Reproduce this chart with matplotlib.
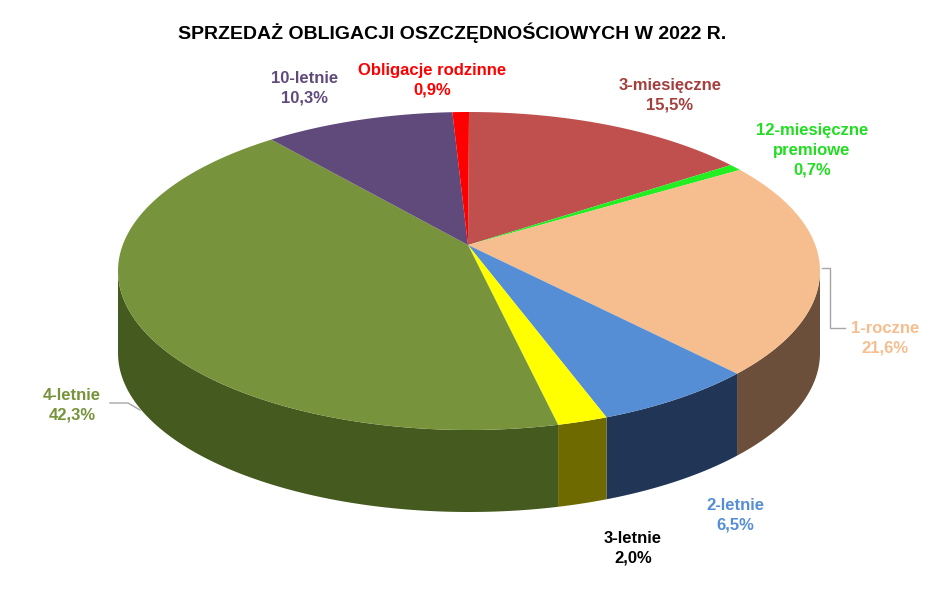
import numpy as np
import matplotlib
matplotlib.use("Agg")
import matplotlib.pyplot as plt
from matplotlib.patches import Polygon

labels = ["3-miesięczne", "12-miesięczne\npremiowe", "1-roczne", "2-letnie", "3-letnie",
          "4-letnie", "10-letnie", "Obligacje rodzinne"]
values = [15.5, 0.7, 21.6, 6.5, 2.0, 42.3, 10.3, 0.9]
pct_text = ["15,5%", "0,7%", "21,6%", "6,5%", "2,0%", "42,3%", "10,3%", "0,9%"]
top_colors = ["#C0504D", "#22EE22", "#F6BE8E", "#558ED5", "#FFFF00", "#77933C", "#604A7B", "#FF0000"]
side_colors = ["#7a2e2c", "#118811", "#6b4f3a", "#213656", "#6e6a00", "#455a1f", "#3a2c4c", "#990000"]
label_colors = ["#A33F3C", "#22DD22", "#F6BE8E", "#558ED5", "#000000", "#77933C", "#604A7B", "#FF0000"]
label_pos = [(670, 95), (812, 150), (885, 338), (735, 515), (633, 548), (72, 405), (305, 88), (432, 80)]

fig = plt.figure(figsize=(9.37, 6.04), dpi=100)
ax = fig.add_axes([0, 0, 1, 1])
ax.set_xlim(0, 937); ax.set_ylim(604, 0); ax.axis("off")

cx, cy, rx, ry, depth = 469, 271, 351, 159, 82
apex = (468, 245)
total = sum(values)
# perspective: equal-angle slices measured from the apex
def rim_angle(phi):
    # find ellipse parameter t where direction from apex equals phi
    ts = np.linspace(-np.pi / 2, 1.5 * np.pi, 20001)
    x = cx + rx * np.cos(ts) - apex[0]
    y = (cy + ry * np.sin(ts) - apex[1]) * rx / ry
    ang = np.unwrap(np.arctan2(y, x))
    ang = ang - ang[0] - np.pi / 2
    return np.interp(phi, ang, ts)

phis = np.cumsum([0] + values) / total * 2 * np.pi - np.pi / 2
bounds = np.array([rim_angle(p) for p in phis])

def pt(t, d=0):
    return cx + rx * np.cos(t), cy + ry * np.sin(t) + d

for i in range(len(values)):
    a, b = bounds[i], bounds[i + 1]
    for off in (0, 2 * np.pi, -2 * np.pi):
        lo, hi = max(a + off, 0), min(b + off, np.pi)
        if hi > lo:
            t = np.linspace(lo, hi, 100)
            xs, ys = pt(t)
            poly = list(zip(xs, ys)) + list(zip(xs[::-1], (ys + depth)[::-1]))
            ax.add_patch(Polygon(poly, closed=True, fc=side_colors[i], ec="none"))
for i in range(len(values)):
    t = np.linspace(bounds[i], bounds[i + 1], 200)
    xs, ys = pt(t)
    poly = [apex] + list(zip(xs, ys))
    ax.add_patch(Polygon(poly, closed=True, fc=top_colors[i], ec="none"))

for i, (x, y) in enumerate(label_pos):
    ax.text(x, y, f"{labels[i]}\n{pct_text[i]}", ha="center", va="center", fontsize=12,
            fontweight="bold", color=label_colors[i], linespacing=1.4, family="Liberation Sans")

ax.plot([822, 830, 830, 845], [268, 268, 328, 328], color="#a6a6a6", lw=1)
ax.plot([110, 128, 140], [403, 403, 410], color="#a6a6a6", lw=1)

ax.text(452, 33, "SPRZEDAŻ OBLIGACJI OSZCZĘDNOŚCIOWYCH W 2022 R.", ha="center", va="center",
        fontsize=14, fontweight="bold", color="black", family="Liberation Sans")
fig.savefig("out.png", dpi=100)
